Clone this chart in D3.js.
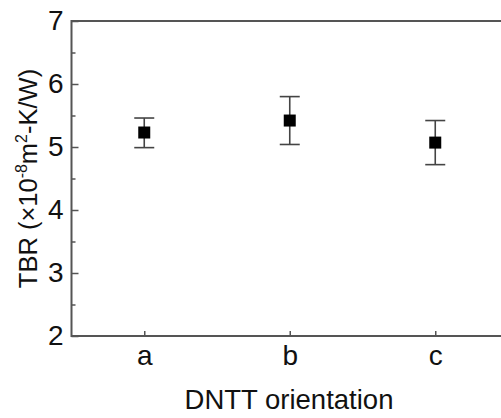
<!DOCTYPE html>
<html>
<head>
<meta charset="utf-8">
<script src="https://cdn.jsdelivr.net/npm/d3@7"></script>
<style>
  body { margin: 0; background: #fff; }
  text { font-family: "Liberation Sans", Arial, sans-serif; fill: #111; }
</style>
</head>
<body>
<div id="chart"></div>
<script>
  // data
  var categories = ['a', 'b', 'c'];
  var tbr = [5.23, 5.42, 5.07];
  var errHigh = [5.46, 5.80, 5.42];
  var errLow = [4.99, 5.04, 4.72];
  var yTicks = [2, 3, 4, 5, 6, 7];
  var yMinor = [2.5, 3.5, 4.5, 5.5, 6.5];

  var width = 501, height = 418;

  var svg = d3.select('#chart')
    .append('svg')
    .attr('width', width)
    .attr('height', height);

  var x = d3.scaleLinear().domain([0.5, 3.5]).range([71.5, 508]);
  var y = d3.scaleLinear().domain([2, 7]).range([336, 21]);

  var axisColor = '#555';

  // frame (top + left + bottom, right side runs off the picture)
  svg.append('path')
    .attr('d', 'M' + x(3.5) + ',' + y(7) + 'H' + x(0.5) + 'V' + y(2) + 'H' + x(3.5))
    .attr('fill', 'none')
    .attr('stroke', axisColor)
    .attr('stroke-width', 2);

  // y axis ticks, inward
  var yAxis = d3.axisLeft(y).tickValues(yTicks).tickSize(-7).tickPadding(8).tickFormat(d3.format('d'));
  var gy = svg.append('g').attr('transform', 'translate(' + x(0.5) + ',0)').call(yAxis);
  gy.select('.domain').remove();
  gy.selectAll('line').attr('stroke', axisColor).attr('stroke-width', 1.5);
  gy.selectAll('text').style('font-size', '28px').attr('fill', '#111');

  var gyMinor = svg.append('g').attr('transform', 'translate(' + x(0.5) + ',0)')
    .call(d3.axisLeft(y).tickValues(yMinor).tickSize(-4).tickFormat(''));
  gyMinor.select('.domain').remove();
  gyMinor.selectAll('line').attr('stroke', axisColor).attr('stroke-width', 1.5);

  // x axis ticks, inward
  var xAxis = d3.axisBottom(x).tickValues([1, 2, 3]).tickSize(-5).tickPadding(9)
    .tickFormat(function (d) { return categories[d - 1] });
  var gx = svg.append('g').attr('transform', 'translate(0,' + y(2) + ')').call(xAxis);
  gx.select('.domain').remove();
  gx.selectAll('line').attr('stroke', axisColor).attr('stroke-width', 1.5);
  gx.selectAll('text').style('font-size', '28px').attr('fill', '#111');

  var points = categories.map(function (c, i) {
    return { idx: i + 1, v: tbr[i], hi: errHigh[i], lo: errLow[i] }
  });

  var capW = 10;
  var errs = svg.append('g').selectAll('g')
    .data(points)
    .enter().append('g')
    .attr('stroke', '#444')
    .attr('stroke-width', 1.6);

  errs.append('line')
    .attr('x1', function (d) { return x(d.idx) })
    .attr('x2', function (d) { return x(d.idx) })
    .attr('y1', function (d) { return y(d.hi) })
    .attr('y2', function (d) { return y(d.lo) });
  errs.append('line')
    .attr('x1', function (d) { return x(d.idx) - capW })
    .attr('x2', function (d) { return x(d.idx) + capW })
    .attr('y1', function (d) { return y(d.hi) })
    .attr('y2', function (d) { return y(d.hi) });
  errs.append('line')
    .attr('x1', function (d) { return x(d.idx) - capW })
    .attr('x2', function (d) { return x(d.idx) + capW })
    .attr('y1', function (d) { return y(d.lo) })
    .attr('y2', function (d) { return y(d.lo) });

  var s = 12;
  svg.append('g').selectAll('rect')
    .data(points)
    .enter().append('rect')
    .attr('x', function (d) { return x(d.idx) - s / 2 })
    .attr('y', function (d) { return y(d.v) - s / 2 })
    .attr('width', s)
    .attr('height', s)
    .attr('fill', '#000');

  // axis titles
  svg.append('text')
    .attr('x', 289)
    .attr('y', 409)
    .attr('text-anchor', 'middle')
    .style('font-size', '27.5px')
    .text('DNTT orientation');

  var yt = svg.append('text')
    .attr('transform', 'translate(37,' + ((y(2) + y(7)) / 2) + ') rotate(-90)')
    .attr('text-anchor', 'middle')
    .style('font-size', '25.5px');
  yt.append('tspan').text('TBR (\u00d710');
  yt.append('tspan').attr('dy', -10).style('font-size', '16px').text('-8');
  yt.append('tspan').attr('dy', 10).text('m');
  yt.append('tspan').attr('dy', -10).style('font-size', '16px').text('2');
  yt.append('tspan').attr('dy', 10).text('-K/W)');
</script>
</body>
</html>
